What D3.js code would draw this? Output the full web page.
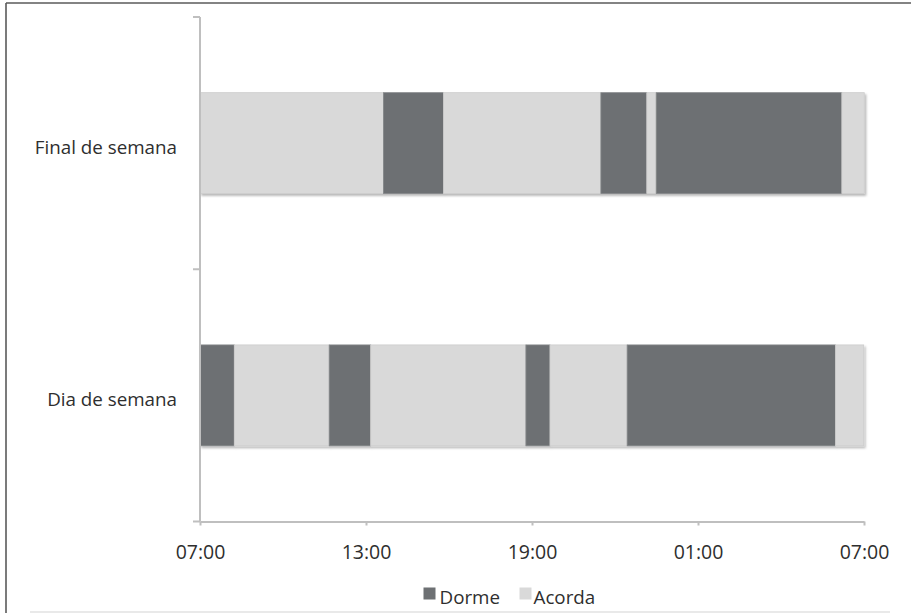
<!DOCTYPE html>
<html>
<head>
<meta charset="utf-8">
<script src="https://cdn.jsdelivr.net/npm/d3@7"></script>
<style>
  html, body { margin: 0; padding: 0; background: #fff; }
  svg { display: block; font-family: "Open Sans", sans-serif; }
</style>
</head>
<body>
<svg id="chart" width="911" height="613"></svg>
<script>
// ---- data (hours, stacked from 07:00) ----
const categories = ["Dia de semana", "Final de semana"];
const seriesNames = ["Dorme", "Acorda", "Dorme", "Acorda", "Dorme", "Acorda", "Dorme", "Acorda"];
const diaDeSemana = [1.24, 3.43, 1.50, 5.61, 0.87, 2.79, 7.53, 1.02];
const finalDeSemana = [0, 6.63, 2.17, 5.69, 1.66, 0.34, 6.71, 0.81];
const tickValues = [0, 6, 12, 18, 24];
const tickLabels = ["07:00", "13:00", "19:00", "01:00", "07:00"];
const legendItems = ["Dorme", "Acorda"];

const colors = { "Dorme": "#6d7073", "Acorda": "#d9d9d9" };
const strokes = { "Dorme": "#85888a", "Acorda": "#cdcdcd" };

const svg = d3.select("#chart");

// frame
svg.append("line").attr("x1", 6).attr("x2", 911).attr("y1", 3).attr("y2", 3)
  .attr("stroke", "#5a5a5a").attr("stroke-width", 1.6);
svg.append("line").attr("x1", 6).attr("x2", 6).attr("y1", 3).attr("y2", 613)
  .attr("stroke", "#5a5a5a").attr("stroke-width", 1.6);
svg.append("line").attr("x1", 30).attr("x2", 890).attr("y1", 612).attr("y2", 612)
  .attr("stroke", "#d4d4d4").attr("stroke-width", 1.2);

// shadow filter
const defs = svg.append("defs");
const f = defs.append("filter").attr("id", "shadow")
  .attr("x", "-5%").attr("y", "-10%").attr("width", "110%").attr("height", "125%");
f.append("feDropShadow").attr("dx", 1.5).attr("dy", 2).attr("stdDeviation", 0.9)
  .attr("flood-color", "#000").attr("flood-opacity", 0.28);

const x = d3.scaleLinear().domain([0, 24]).range([200, 864]);
const y = d3.scaleBand().domain(categories).range([521.5, 17])
  .paddingInner(0.6).paddingOuter(0.3);

const dataByCat = { "Dia de semana": diaDeSemana, "Final de semana": finalDeSemana };

// bars
categories.forEach(cat => {
  const vals = dataByCat[cat];
  let acc = 0;
  const segs = vals.map((v, i) => {
    const s = { start: acc, end: acc + v, name: seriesNames[i] };
    acc += v;
    return s;
  }).filter(s => s.end > s.start);
  const g = svg.append("g").attr("filter", "url(#shadow)");
  g.selectAll("rect").data(segs).enter().append("rect")
    .attr("x", d => x(d.start))
    .attr("width", d => x(d.end) - x(d.start))
    .attr("y", y(cat))
    .attr("height", y.bandwidth())
    .attr("fill", d => colors[d.name])
    .attr("stroke", d => strokes[d.name])
    .attr("stroke-width", 0.8);
});

// y axis line with boundary ticks
const axisColor = "#bfbfbf";
const yr = y.range();
svg.append("line").attr("x1", x(0)).attr("x2", x(0))
  .attr("y1", yr[1]).attr("y2", yr[0])
  .attr("stroke", axisColor).attr("stroke-width", 2);
const boundaries = [yr[1]].concat(categories.map(c => y(c) + y.bandwidth() / 2 + y.step() / 2));
boundaries.forEach(b => {
  svg.append("line").attr("x1", x(0) - 7).attr("x2", x(0))
    .attr("y1", b).attr("y2", b)
    .attr("stroke", axisColor).attr("stroke-width", 2);
});

// category labels
svg.selectAll("text.cat").data(categories).enter().append("text")
  .attr("class", "cat")
  .attr("x", 177)
  .attr("y", d => y(d) + y.bandwidth() / 2 + 4)
  .attr("dominant-baseline", "central")
  .attr("text-anchor", "end")
  .attr("font-size", "18.8px")
  .attr("fill", "#2e2e2e")
  .text(d => d);

// x axis
const xAxis = d3.axisBottom(x).tickValues(tickValues)
  .tickFormat((d, i) => tickLabels[i]).tickSize(4).tickPadding(20).tickSizeOuter(0);
const gx = svg.append("g").attr("transform", `translate(0,${yr[0]})`).call(xAxis);
gx.select(".domain").attr("stroke", axisColor).attr("stroke-width", 2);
gx.selectAll(".tick line").attr("stroke", axisColor).attr("stroke-width", 2);
gx.selectAll(".tick text").attr("font-size", "19.5px")
  .attr("font-family", "'Open Sans', sans-serif").attr("fill", "#2e2e2e");

// legend
const legendPos = [423.5, 519.5];
const legendTextPos = [439.5, 533.5];
const lg = svg.append("g");
legendItems.forEach((name, i) => {
  lg.append("rect").attr("x", legendPos[i]).attr("y", 587.5)
    .attr("width", 12).attr("height", 12).attr("fill", colors[name]);
  lg.append("text").attr("x", legendTextPos[i]).attr("y", 596.5)
    .attr("dominant-baseline", "central")
    .attr("font-size", "18.8px").attr("fill", "#2e2e2e").text(name);
});
</script>
</body>
</html>
